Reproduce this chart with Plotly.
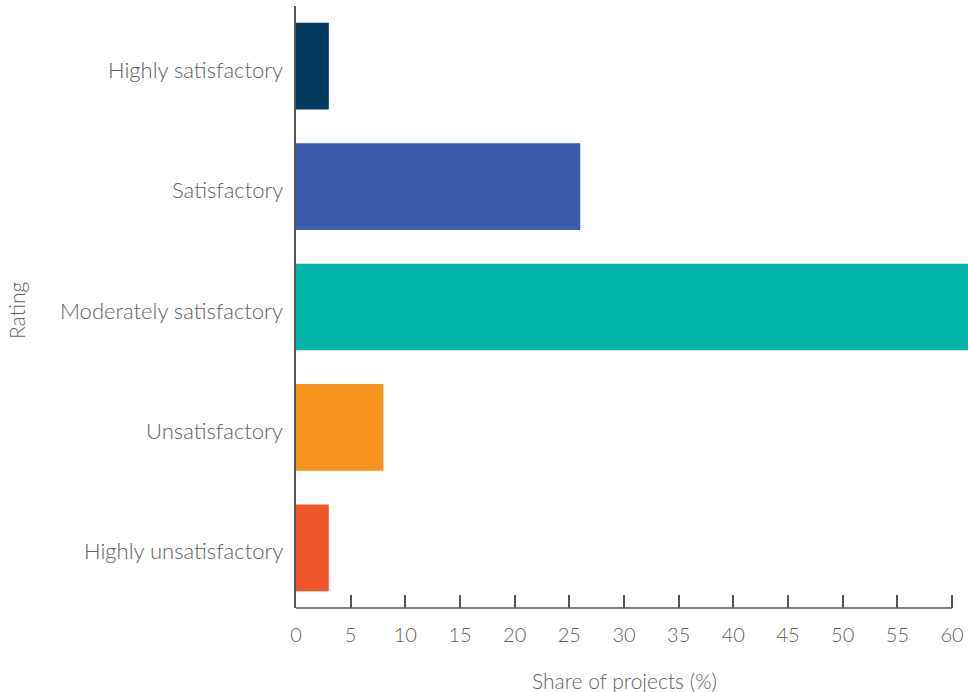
import plotly.graph_objects as go

ratings = ["Highly satisfactory", "Satisfactory", "Moderately satisfactory",
           "Unsatisfactory", "Highly unsatisfactory"]
shares = [3, 26, 62, 8, 3]
colors = ["#023a5e", "#3a5ba9", "#00b5a8", "#f7941e", "#ef5528"]
x_ticks = list(range(0, 65, 5))

font_family = "Lato"
text_color = "#5f5f5f"
axis_color = "#555555"

fig = go.Figure(
    go.Bar(
        y=ratings,
        x=shares,
        orientation="h",
        marker=dict(color=colors, line=dict(width=0)),
        hoverinfo="x+y",
    )
)

fig.update_layout(
    width=968,
    height=692,
    margin=dict(l=296, r=0, t=6, b=84),
    paper_bgcolor="white",
    plot_bgcolor="white",
    bargap=0.28,
    showlegend=False,
    font=dict(family=font_family, size=22, color=text_color, weight=300),
)

fig.update_xaxes(
    range=[0, 61.46],
    tickvals=x_ticks,
    ticktext=[str(v) for v in x_ticks],
    ticks="inside",
    ticklen=13,
    tickwidth=1.5,
    tickcolor=axis_color,
    showgrid=False,
    zeroline=False,
    showline=False,
    ticklabelstandoff=13,
    tickfont=dict(size=20, color=text_color),
)

fig.update_yaxes(
    categoryorder="array",
    categoryarray=ratings[::-1],
    range=[-0.5, 4.5],
    showgrid=False,
    zeroline=False,
    showline=True,
    linecolor=axis_color,
    linewidth=1.5,
    ticks="",
    showticklabels=False,
)

# category labels, set just left of the value axis
for name in ratings:
    fig.add_annotation(
        text=name, xref="paper", yref="y",
        x=0, y=name, xshift=-11, yshift=-3,
        showarrow=False, xanchor="right", yanchor="middle",
        font=dict(size=22, color=text_color),
    )

# x-axis baseline runs only across the labelled 0–60 span
fig.add_shape(
    type="line", xref="x", yref="paper",
    x0=0, x1=60, y0=0, y1=0,
    line=dict(color=axis_color, width=1.5),
)

fig.add_annotation(
    text="Share of projects (%)",
    xref="x", yref="paper",
    x=30, y=0, yshift=-72,
    showarrow=False,
    xanchor="center", yanchor="middle",
    font=dict(size=21, color=text_color),
)

fig.add_annotation(
    text="Rating",
    xref="paper", yref="paper",
    x=0, y=0.5, xshift=-280, yshift=-4,
    textangle=-90,
    showarrow=False,
    xanchor="center", yanchor="middle",
    font=dict(size=21, color=text_color),
)

fig.write_html("out.html")
